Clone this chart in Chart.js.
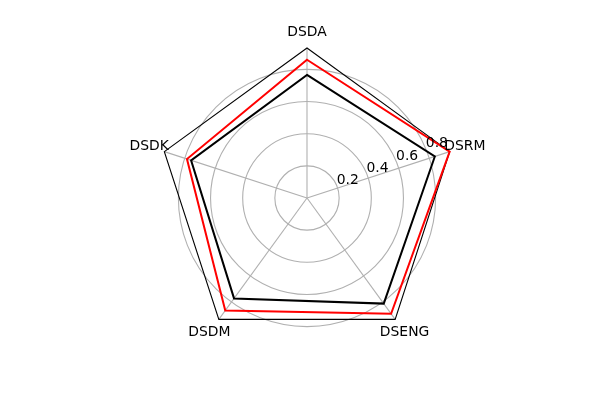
<!DOCTYPE html>
<html>
<head>
<meta charset="utf-8">
<script src="https://cdn.jsdelivr.net/npm/chart.js@4/dist/chart.umd.min.js"></script>
<style>
html,body{margin:0;padding:0;background:#fff;}
#wrap{width:600px;height:400px;position:relative;}
</style>
</head>
<body>
<div id="wrap"><canvas id="c" width="600" height="400"></canvas></div>
<script>
const categories = ['DSDA', 'DSRM', 'DSENG', 'DSDM', 'DSDK'];
const seriesBlack = [0.766, 0.836, 0.812, 0.772, 0.758];
const seriesRed = [0.86, 0.933, 0.89, 0.865, 0.785];
const tickValues = [0.2, 0.4, 0.6, 0.8];
const rMax = 0.933;

const FONT = '13.9px "DejaVu Sans"';

const decor = {
  id: 'decor',
  beforeDatasetsDraw(chart) {
    const s = chart.scales.r;
    const ctx = chart.ctx;
    ctx.save();
    ctx.strokeStyle = '#000';
    ctx.lineWidth = 1.1;
    ctx.beginPath();
    for (let i = 0; i < categories.length; i++) {
      const p = s.getPointPosition(i, s.drawingArea);
      if (i === 0) ctx.moveTo(p.x, p.y); else ctx.lineTo(p.x, p.y);
    }
    ctx.closePath();
    ctx.stroke();
    ctx.restore();
  },
  afterDraw(chart) {
    const s = chart.scales.r;
    const ctx = chart.ctx;
    ctx.save();
    ctx.fillStyle = '#000';
    ctx.font = FONT;
    // category labels
    ctx.textAlign = 'center';
    ctx.textBaseline = 'middle';
    for (let i = 0; i < categories.length; i++) {
      const p = s.getPointPosition(i, s.drawingArea + 16);
      ctx.fillText(categories[i], p.x, p.y);
    }
    // radial tick labels at 22.5 degrees
    ctx.textAlign = 'left';
    ctx.textBaseline = 'bottom';
    const a = 22.5 * Math.PI / 180;
    tickValues.forEach(v => {
      const r = s.getDistanceFromCenterForValue(v);
      ctx.fillText(String(v), s.xCenter + r * Math.cos(a), s.yCenter - r * Math.sin(a) + 2);
    });
    ctx.restore();
  }
};

new Chart(document.getElementById('c'), {
  type: 'radar',
  data: {
    labels: categories,
    datasets: [
      { data: seriesBlack, borderColor: '#000', borderWidth: 2, fill: false, pointRadius: 0, tension: 0 },
      { data: seriesRed, borderColor: '#ff0000', borderWidth: 2, fill: false, pointRadius: 0, tension: 0 }
    ]
  },
  options: {
    responsive: false,
    animation: false,
    devicePixelRatio: 1,
    layout: { padding: { left: 14, right: 0, top: 48, bottom: 52 } },
    plugins: { legend: { display: false }, tooltip: { enabled: false } },
    elements: { line: { borderJoinStyle: 'miter' } },
    scales: {
      r: {
        min: 0,
        max: rMax,
        afterBuildTicks(scale) {
          scale.ticks = [{ value: 0 }].concat(tickValues.map(v => ({ value: v })));
        },
        ticks: { display: false, stepSize: 0.2 },
        pointLabels: { display: false },
        grid: { circular: true, color: '#b0b0b0', lineWidth: 1.1 },
        angleLines: { color: '#b0b0b0', lineWidth: 1.1 }
      }
    }
  },
  plugins: [decor]
});
</script>
</body>
</html>
